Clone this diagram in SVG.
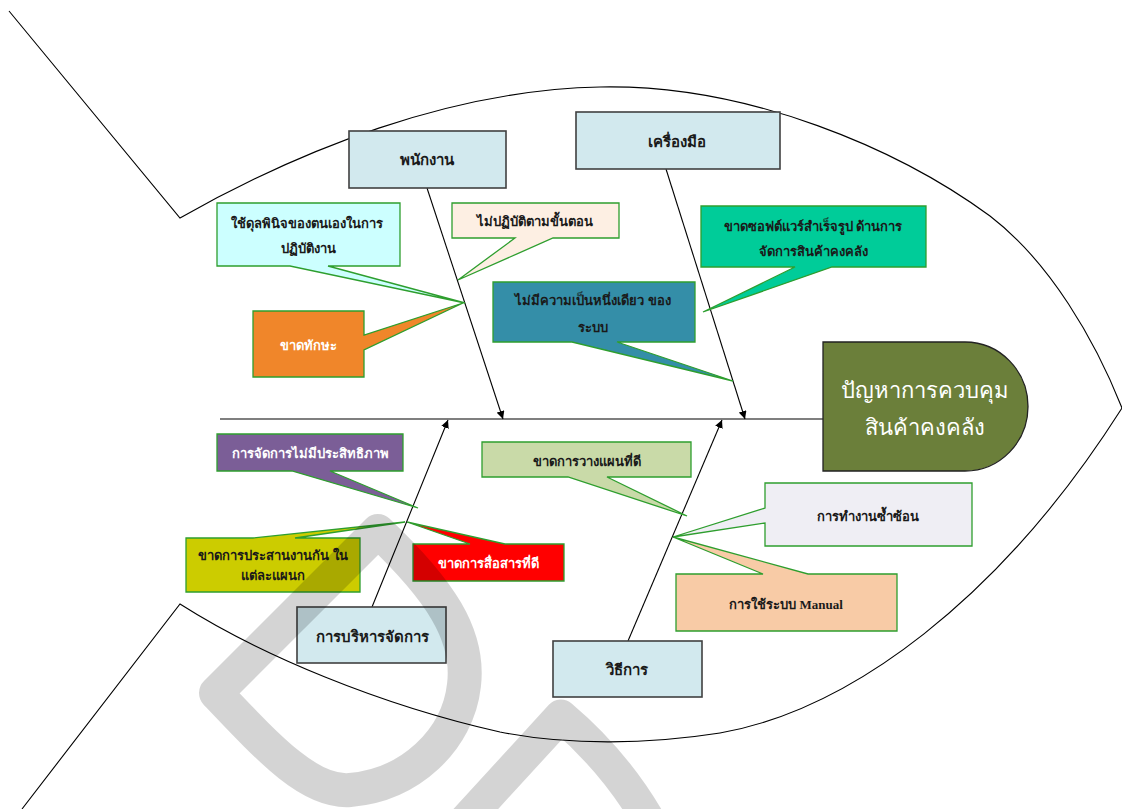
<svg xmlns="http://www.w3.org/2000/svg" width="1122" height="809" viewBox="0 0 1122 809">
<defs>
<style>
.fish{fill:none;stroke:#000;stroke-width:1.1}
.bone{fill:none;stroke:#000;stroke-width:1.1}
.cat rect{fill:#D2E9EE;stroke:#404040;stroke-width:1.6}
.co{stroke:#2E9E2E;stroke-width:1.3;stroke-linejoin:miter}
text{font-family:"Liberation Serif","DejaVu Serif",serif;font-weight:bold;text-anchor:middle;dominant-baseline:central}
.lbl{font-size:15px;fill:#1a1a1a}
.cl{font-size:13px;fill:#1a1a1a}
.wt{fill:#fff}
.head{font-size:22px;fill:#fff;font-weight:normal}
.wm{fill:none;stroke:#000;stroke-opacity:0.17;stroke-linejoin:round}
</style>
<marker id="ah" viewBox="0 0 10 10" refX="10" refY="5" markerWidth="8" markerHeight="8" markerUnits="userSpaceOnUse" orient="auto">
<path d="M0,0 L10,5 L0,10 Z" fill="#000"/>
</marker>
</defs>
<rect width="1122" height="809" fill="#fff"/>
<g id="fish-outline">
<path class="fish" d="M9,11 L180,218 C300,150 450,90 600,87 C750,84 900,150 990,216 C1050,262 1095,340 1122,408"/>
<path class="fish" d="M22,809 L180,604 C260,655 380,705 500,732 C570,746 650,744 720,733 C850,710 1000,600 1122,408"/>
</g>
<g id="connectors">
<line class="bone" x1="220" y1="419" x2="823" y2="419"/>
<line class="bone" x1="427" y1="188" x2="503" y2="419" marker-end="url(#ah)"/>
<line class="bone" x1="666" y1="169" x2="745" y2="419" marker-end="url(#ah)"/>
<line class="bone" x1="372" y1="607" x2="448" y2="420" marker-end="url(#ah)"/>
<line class="bone" x1="628" y1="641" x2="722" y2="420" marker-end="url(#ah)"/>
</g>
<g id="cat-staff" class="cat"><rect x="349" y="131" width="157" height="57"/><text class="lbl" x="427" y="160">พนักงาน</text></g>
<g id="cat-tools" class="cat"><rect x="576" y="112" width="204" height="57"/><text class="lbl" x="677" y="142">เครื่องมือ</text></g>
<g id="cat-mgmt" class="cat"><rect x="297" y="607" width="149" height="56"/><text class="lbl" x="372" y="637">การบริหารจัดการ</text></g>
<g id="cat-method" class="cat"><rect x="553" y="641" width="149" height="56"/><text class="lbl" x="627" y="670">วิธีการ</text></g>

<g id="c-judgement"><path class="co" fill="#CCFFFF" d="M217,203 H400 V266 H328 L465,303 L290,266 H217 Z"/><text class="cl" x="307" y="223">ใช้ดุลพินิจของตนเองในการ</text><text class="cl" x="308" y="248">ปฏิบัติงาน</text></g>
<g id="c-steps"><path class="co" fill="#FDEFE3" d="M452,203 H619 V238 H553 L458,280 L515,238 H452 Z"/><text class="cl" x="535" y="221">ไม่ปฏิบัติตามขั้นตอน</text></g>
<g id="c-skill"><path class="co" fill="#F0862A" d="M253,311 H364 V335 L463,303 L364,350 V377 H253 Z"/><text class="cl wt" x="308" y="345">ขาดทักษะ</text></g>
<g id="c-unity"><path class="co" fill="#348EA8" d="M493,282 H695 V342 H617 L733,381 L572,342 H493 Z"/><text class="cl" x="593" y="300">ไม่มีความเป็นหนึ่งเดียว ของ</text><text class="cl" x="593" y="327">ระบบ</text></g>
<g id="c-software"><path class="co" fill="#00CC99" d="M701,206 H926 V267 H832 L703,312 L795,267 H701 Z"/><text class="cl" x="813" y="226">ขาดซอฟต์แวร์สำเร็จรูป  ด้านการ</text><text class="cl" x="813" y="251">จัดการสินค้าคงคลัง</text></g>

<g id="c-inefficient"><path class="co" fill="#7B5E97" d="M217,434 H403 V471 H330 L418,508 L292,471 H217 Z"/><text class="cl wt" x="310" y="453">การจัดการไม่มีประสิทธิภาพ</text></g>
<g id="c-coord"><path class="co" fill="#CCCC00" d="M186,538 H253 L405,522 L295,538 H360 V592 H186 Z"/><text class="cl" x="273" y="555">ขาดการประสานงานกัน ใน</text><text class="cl" x="273" y="575">แต่ละแผนก</text></g>
<g id="c-comm"><path class="co" fill="#FF0000" d="M413,544 H470 L407,522 L505,544 H564 V581 H413 Z"/><text class="cl wt" x="488" y="563">ขาดการสื่อสารที่ดี</text></g>
<g id="c-plan"><path class="co" fill="#C9DAA8" d="M482,442 H691 V477 H607 L687,516 L568,477 H482 Z"/><text class="cl" x="587" y="461">ขาดการวางแผนที่ดี</text></g>
<g id="c-dup"><path class="co" fill="#EFEEF4" d="M765,483 H972 V546 H765 V523 L673,537 L765,508 Z"/><text class="cl" x="868" y="516">การทำงานซ้ำซ้อน</text></g>
<g id="c-manual"><path class="co" fill="#F8CBA6" d="M676,574 H763 L673,537 L808,574 H897 V631 H676 Z"/><text class="cl" x="786" y="604">การใช้ระบบ Manual</text></g>

<g id="head"><path d="M823,342 H965 A63,64.5 0 0 1 965,471 H823 Z" fill="#6B7F3A" stroke="#222" stroke-width="1.3"/><text class="head" x="925" y="390">ปัญหาการควบคุม</text><text class="head" x="925" y="427">สินค้าคงคลัง</text></g>

<g id="watermark">
<path class="wm" stroke-width="34" d="M216,693 L378,531 C440,590 470,635 464,685 C458,740 410,785 350,790 C310,793 270,750 216,693 Z"/>
<path class="wm" stroke-width="33" d="M452,835 L561,716 Q625,770 662,845"/>
</g>
</svg>
